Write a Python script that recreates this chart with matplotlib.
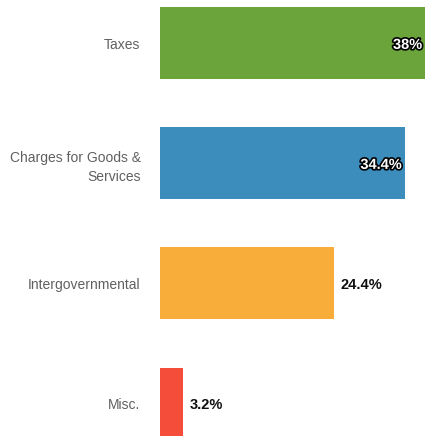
import matplotlib
matplotlib.use("Agg")
import matplotlib.pyplot as plt
import matplotlib.patheffects as pe

categories = ["Taxes", "Charges for Goods &\nServices", "Intergovernmental", "Misc."]
values = [38, 34.4, 24.4, 3.2]
value_labels = ["38%", "34.4%", "24.4%", "3.2%"]
colors = ["#6AA43B", "#3C8DBC", "#F8AC3A", "#F44E3B"]
inside = [True, True, False, False]

plt.rcParams['font.family'] = ['Liberation Sans', 'DejaVu Sans']

fig = plt.figure(figsize=(4.25, 4.36), dpi=100)
ax = fig.add_axes([160/425, 0, 1 - 160/425, 1])
xmax = 265/7.12
ax.set_xlim(0, xmax)
ax.set_ylim(436/120 - 43.5/120, -43.5/120)

ypos = list(range(len(categories)))
ax.barh(ypos, values, height=0.6, color=colors)

for y, v, lab, ins in zip(ypos, values, value_labels, inside):
    if ins:
        t = ax.annotate(lab, xy=(min(v, xmax), y), xytext=(-2, -1), textcoords="offset points",
                        ha="right", va="center", color="white", fontsize=10.5, fontweight="bold")
        t.set_path_effects([pe.withStroke(linewidth=2.4, foreground="black")])
    else:
        ax.annotate(lab, xy=(v, y), xytext=(5, -1), textcoords="offset points",
                    ha="left", va="center", color="#111111", fontsize=10.5, fontweight="bold")

ax.set_yticks(ypos)
ax.set_yticklabels(categories, fontsize=10, color="#606060", ha="right", linespacing=1.45)
ax.tick_params(axis="y", length=0, pad=14)
ax.set_xticks([])
for s in ax.spines.values():
    s.set_visible(False)

fig.savefig("out.png", dpi=100)
